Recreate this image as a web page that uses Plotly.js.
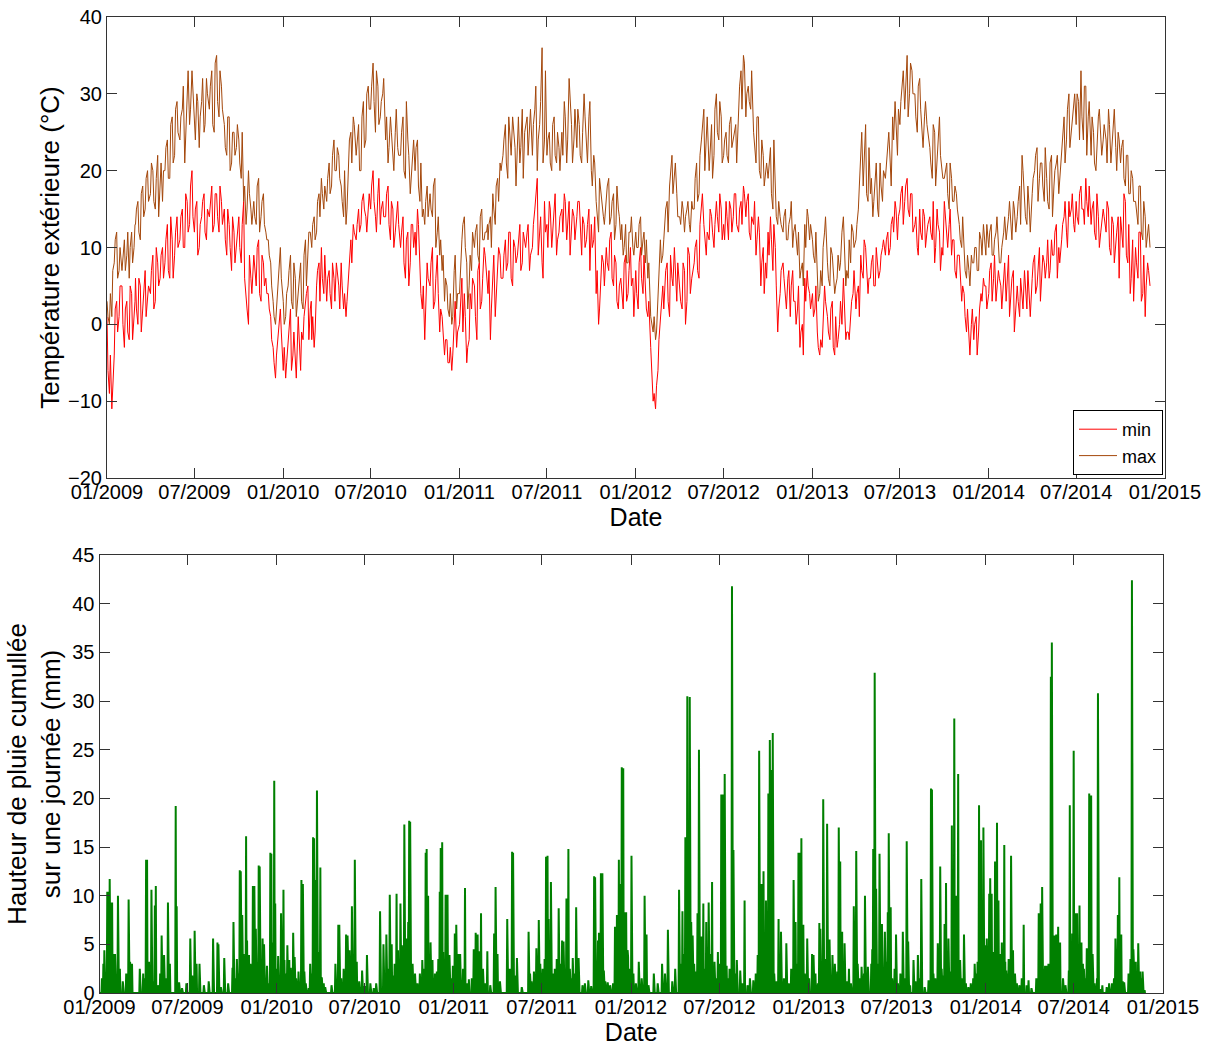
<!DOCTYPE html>
<html>
<head>
<meta charset="utf-8">
<script src="https://cdn.plot.ly/plotly-3.0.1.min.js"></script>
<style>html,body{margin:0;padding:0;background:#fff;}#chart{width:1212px;height:1046px;}</style>
</head>
<body>
<div id="chart"></div>
<script>
// ---- Daily temperatures (°C). A: days 1,6,11,16,21,26 of each month; B: days 3,8,13,18,23,28 ----
const tmin2009 = [1,-9,-11,-4,3,1, 5,-3,3,-2,4,1, 6,0,5,2,7,3, 4,9,3,8,6,10, 8,13,6,11,9,14, 11,15,10,16,13,20, 12,16,10,14,17,11, 14,18,13,17,12,16, 15,9,13,7,12,10, 14,8,16,3,0,6, 9,5,11,3,8,6, 4,1,-3,-7,-2,2];
const tmax2009 = [3,0,1,8,12,7, 7,11,9,6,12,10, 13,16,11,18,15,20, 17,20,15,22,18,16, 20,24,19,27,22,29, 24,28,21,30,26,33, 27,30,23,29,25,32, 28,33,25,35,27,31, 26,22,27,21,25,23, 24,19,16,13,20,15, 16,13,19,14,17,12, 11,8,3,0,5,10];
const tmin2010 = [-6,-7,-2,2,-4,-5, 1,-6,-2,3,5,2, -2,-3,5,8,10,4, 3,7,2,6,8,5, 8,2,1,6,11,13, 11,15,13,17,14,16, 15,20,14,17,13,16, 14,18,11,15,12,16, 10,14,6,12,8,13, 12,15,7,2,-2,8, 5,10,3,9,-1,1, -4,-2,-5,-6,1,-3];
const tmax2010 = [3,1,5,9,2,6, 4,8,2,11,9,12, 10,14,12,17,19,15, 16,21,18,24,20,22, 18,14,13,20,25,27, 22,26,20,29,24,31, 28,34,25,31,27,30, 24,21,27,22,25,23, 22,27,19,24,17,21, 20,24,16,14,13,18, 17,14,19,12,9,7, 3,5,1,0,7,2];
const tmin2011 = [0,6,4,-5,-2,2, 5,-2,8,3,10,6, 4,-2,6,1,8,9, 6,11,8,12,5,10, 9,13,8,11,12,7, 10,15,19,12,8,16, 13,16,10,14,9,12, 15,17,11,16,13,14, 14,16,9,13,11,15, 13,11,4,0,6,8, 10,7,12,5,8,2, 6,2,9,4,10,6];
const tmax2011 = [4,11,14,8,5,7, 10,13,8,15,11,12, 11,14,17,13,19,21, 22,26,19,24,27,23, 24,21,28,25,27,26, 22,28,20,26,36,24, 22,25,20,27,21,23, 25,29,21,32,26,24, 23,26,21,30,24,27, 20,22,16,12,17,14, 16,19,14,17,13,15, 11,9,13,8,12,10];
const tmin2012 = [7,2,10,4,5,1, -3,-10,-11,-6,1,5, 4,8,1,6,10,3, 5,2,7,3,9,6, 8,11,6,15,13,9, 11,14,10,16,12,15, 13,16,11,15,14,17, 12,16,18,14,17,11, 13,9,14,5,10,8, 12,14,7,10,-1,4, 8,4,6,1,7,3, 2,-3,0,6,7,4];
const tmax2012 = [12,10,14,11,8,6, 1,-1,-2,3,11,9, 13,16,18,22,20,17, 14,16,12,15,13,16, 15,21,17,24,28,26, 20,26,22,30,24,27, 22,25,21,27,24,26, 29,33,35,27,31,28, 25,21,27,19,22,20, 19,23,15,18,13,14, 12,15,11,14,10,13, 9,6,8,13,15,11];
const tmin2013 = [4,2,-1,-4,-3,5, 1,-2,3,-4,-3,0, 2,6,-2,-1,1,4, 2,5,9,6,10,4, 6,9,5,8,7,10, 9,12,10,14,16,11, 15,18,16,19,14,17, 13,10,15,11,14,12, 14,11,8,15,12,10, 16,12,13,9,11,6, 9,3,4,-1,-3,0, -2,1,-1,4,6,5];
const tmax2013 = [11,8,6,4,5,12, 8,5,9,4,6,7, 10,14,5,6,8,12, 11,15,22,18,26,16, 17,14,19,15,21,16, 19,23,21,27,29,22, 26,31,28,35,30,33, 30,25,32,24,27,26, 23,19,25,21,27,20, 19,21,15,19,16,17, 13,10,8,6,7,9, 8,10,7,11,13,9];
const tmin2014 = [4,8,6,3,7,5, 6,3,9,4,7,2, 5,1,4,7,2,3, 6,9,5,10,7,8, 8,6,11,9,13,10, 11,14,12,16,15,13, 16,13,18,15,19,14, 13,16,11,14,12,15, 12,15,9,13,11,14, 14,10,16,8,4,11, 10,6,12,4,1,8, 5];
const tmax2014 = [10,13,9,12,11,8, 12,11,14,13,16,12, 14,18,22,16,13,15, 17,20,23,19,21,16, 19,15,22,18,21,17, 22,27,24,30,25,28, 26,29,33,24,31,27, 22,25,20,27,23,24, 24,28,21,26,23,25, 21,24,18,22,17,19, 16,13,18,11,14,12, 10];

const tminB2009 = [-6,-4,-8,2,-1,5, 0,2,-1,5,-2,3, 2,6,-1,4,1,5, 7,2,10,5,9,6, 11,7,14,6,12,10, 14,10,17,12,18,14, 15,9,13,16,12,15, 16,12,17,14,18,13, 11,15,10,14,8,12, 10,13,6,2,9,4, 7,10,4,9,5,4, 2,-2,-5,-4,0,-1];
const tmaxB2009 = [1,4,7,11,6,10, 9,7,12,10,8,13, 15,12,17,14,19,16, 21,16,19,14,21,20, 23,19,26,21,28,25, 27,31,25,33,28,30, 24,29,27,32,26,30, 31,26,34,29,33,28, 23,27,20,25,22,26, 21,25,18,15,17,13, 14,18,12,16,13,11, 9,5,1,2,8,6];
const tminB2010 = [-3,-5,0,-6,-1,-7, -3,-1,1,4,-2,3, 1,-1,7,3,6,9, 6,4,8,3,7,2, 5,4,3,9,8,12, 13,12,16,15,12,17, 18,16,12,19,15,14, 17,13,16,10,14,13, 12,8,11,5,13,10, 9,13,4,5,3,6, 8,2,6,4,2,-1, -2,-5,-3,-4,3,-1];
const tmaxB2010 = [0,4,7,3,8,1, 6,3,9,5,12,10, 13,11,16,14,17,18, 19,17,22,20,23,19, 16,20,15,24,21,26, 24,20,27,23,30,28, 31,29,33,26,29,32, 27,23,25,20,28,22, 25,20,29,22,19,24, 23,18,21,15,16,14, 15,18,10,14,11,9, 6,2,4,1,9,4];
const tminB2011 = [3,-1,1,-3,4,6, 1,7,2,6,9,4, 7,2,9,4,10,6, 9,7,12,6,11,8, 11,7,12,10,13,9, 13,17,9,14,6,12, 10,15,12,17,11,14, 12,16,13,9,15,11, 16,12,14,10,13,7, 10,14,7,2,9,5, 8,11,6,9,3,5, 4,8,3,7,5,1];
const tmaxB2011 = [8,13,10,2,9,12, 12,9,14,11,12,13, 13,10,15,18,16,20, 24,21,27,22,25,18, 27,23,19,26,22,28, 26,31,24,29,21,33, 24,21,26,22,25,20, 22,27,24,30,21,28, 28,22,25,27,21,29, 18,21,14,19,15,13, 18,13,16,11,18,14, 13,10,8,12,14,9];
const tminB2012 = [4,8,6,9,2,3, -7,-9,-8,-2,3,2, 7,3,9,5,7,8, 3,8,0,10,4,7, 10,7,13,17,11,12, 15,12,13,14,17,11, 11,14,16,12,17,13, 15,13,17,16,12,14, 16,11,12,8,4,6, 9,11,13,5,2,7, 6,2,7,5,3,0, 5,-1,-4,3,5,2];
const tmaxB2012 = [10,13,9,12,11,8, 0,1,-1,6,8,11, 15,12,20,17,21,14, 13,15,14,16,12,15, 19,16,22,26,20,27, 23,19,28,25,29,21, 24,22,26,23,25,21, 31,28,34,30,29,33, 23,27,20,24,18,21, 21,17,24,14,16,13, 14,11,13,16,12,11, 12,7,5,10,14,13];
const tminB2013 = [1,5,-3,-2,0,3, -1,2,-3,1,-2,3, 0,3,-1,-2,3,7, 4,1,7,11,8,6, 8,5,10,6,9,11, 11,9,13,12,15,14, 17,13,18,15,17,12, 14,9,12,15,10,13, 12,16,10,13,7,9, 14,10,15,11,7,9, 7,5,1,2,-4,2, 0,-4,2,3,5,2];
const tmaxB2013 = [9,12,3,7,10,14, 6,10,7,5,9,8, 12,9,7,11,13,10, 13,18,25,21,17,23, 19,16,21,14,18,20, 21,25,18,24,26,28, 29,33,31,27,34,30, 27,31,28,23,29,25, 21,26,18,24,22,19, 20,17,21,16,18,15, 11,14,7,9,5,8, 10,7,12,9,11,13];
const tminB2014 = [7,3,9,5,6,2, 8,5,1,6,-1,4, 3,6,2,5,7,1, 8,4,7,3,9,6, 11,7,9,12,6,8, 13,16,10,14,17,12, 14,17,15,13,16,18, 15,12,17,10,13,14, 16,10,14,8,12,6, 12,17,9,13,6,3, 8,12,3,9,5,7];
const tmaxB2014 = [12,9,11,14,8,10, 14,12,16,11,15,13, 16,13,20,14,18,12, 19,22,16,21,18,23, 16,21,14,20,22,19, 25,21,28,23,27,30, 30,24,27,31,22,29, 27,21,24,28,22,26, 21,26,23,28,20,24, 23,19,22,17,20,16, 15,18,12,16,10,13];

// ---- Daily rainfall (mm): day offset from 2009-01-01 and amount; other days are dry (0) ----
const rainDay = [10,16,18,21,24,26,32,38,60,63,67,83,90,96,98,102,107,114,116,128,133,141,157,159,164,179,187,191,196,200,206,234,243,245,257,274,276,289,291,294,302,304,308,314,316,319,322,328,330,336,339,352,354,357,360,362,374,379,381,387,391,399,402,416,419,422,431,440,442,445,448,451,455,465,486,492,494,508,511,515,520,523,526,530,541,551,558,578,585,591,598,602,612,615,620,623,628,632,636,638,640,650,665,672,674,677,682,686,691,701,703,706,711,713,717,721,732,735,739,743,753,761,771,775,779,782,786,799,813,816,820,840,850,852,860,884,887,895,900,905,913,920,923,925,930,938,942,946,953,956,959,962,966,969,975,982,987,1007,1019,1021,1027,1029,1033,1036,1039,1047,1058,1062,1066,1070,1073,1076,1079,1081,1085,1088,1089,
1096,1111,1123,1127,1142,1159,1171,1194,1201,1207,1211,1216,1219,1222,1232,1235,1240,1244,1250,1255,1262,1267,1274,1281,1285,1288,1292,1303,1306,1313,1320,1329,1347,1356,1359,1364,1368,1373,1378,1381,1384,1387,1399,1404,1415,1430,1434,1440,1443,1446,1450,1458,1468,1471,1483,1485,1491,1499,1504,1510,1523,1526,1530,1535,1544,1554,1559,1570,1577,1583,1594,1597,1600,1607,1612,1618,1624,1626,1630,1641,1655,1663,1666,1677,1686,1693,1708,1713,1715,1727,1732,1741,1744,1749,1756,1761,1765,1769,1773,1781,1790,1803,1809,1812,1816,1821,1824,1828,1833,1835,1838,1842,1845,1849,1852,1856,1859,1864,1868,1873,1878,1882,1895,1904,1914,1935,1939,1942,1948,1951,1960,1962,1967,1971,1975,1979,1997,1999,2004,2007,2011,2014,2019,2023,2028,2034,2039,2043,2046,2057,2062,2075,2086,2093,2098,2101,2105,2111,2127,2131,2135,2140,2144,2149,2153,
5,8,13,20,28,35,42,48,55,92,100,110,120,125,137,145,170,215,225,250,265,280,283,286,297,299,306,311,317,325,333,342,345,348,365,368,371,384,394,405,410,425,434,437,458,462,478,498,503,512,518,535,546,565,570,595,605,608,617,645,655,660,668,679,688,695,698,708,715,725,728,746,749,757,767,790,795,805,825,845,857,870,890,908,917,934,949,964,972,979,995,1000,1013,1024,1031,1042,1052,1068,1083,1091,
1100,1105,1117,1131,1150,1165,1180,1186,1197,1204,1209,1213,1225,1228,1238,1247,1252,1258,1265,1270,1278,1283,1295,1298,1310,1325,1335,1340,1352,1362,1366,1371,1376,1390,1395,1410,1420,1425,1437,1448,1453,1462,1475,1480,1488,1494,1502,1507,1515,1520,1528,1533,1540,1548,1562,1566,1575,1580,1590,1592,1603,1605,1610,1615,1621,1633,1638,1645,1650,1660,1670,1681,1690,1700,1718,1722,1730,1735,1738,1746,1752,1759,1763,1767,1776,1785,1795,1800,1806,1814,1818,1826,1831,1840,1847,1854,1861,1866,1871,1876,1886,1890,1900,1910,1920,1930,1945,1955,1958,1965,1969,1973,1977,1985,1990,2001,2009,2016,2021,2026,2031,2037,2041,2050,2055,2066,2080,2090,2096,2103,2108,2120,2124,2130,2138,2147];
const rainMm = [4.4,10.4,10.4,11.7,9.3,9.3,4,10,9.6,3.2,3,2.5,2,13.7,13.7,3.2,10.6,9,11,5.9,3.9,9.3,19.2,8.9,1.1,1,5.6,1.8,6.4,3,3,5.6,5.2,5,3.6,2.6,7.3,12.6,12.5,8,16.1,5.4,3.9,2.7,11,11,6.6,13.1,13,5.6,5,14.4,14.3,5.2,21.8,9.2,8.2,10.6,3.4,4.9,3.4,6.2,3.7,11.6,11.2,2.2,0.5,16,15.9,11.6,20.8,4.2,12.9,0.6,3,7,7,6,5.9,4.4,8.9,3.2,13.7,3.2,2.3,3.9,1,8.4,5,6,10.1,5,10.2,4.4,9.2,4.9,17.3,5.6,7.3,17.7,17.6,2,3.4,14.4,14.8,10,5.2,3.4,2,10.4,14.9,15.5,3.4,10.1,10.1,3.9,6.1,7,4,4,10.8,1.4,4.5,6.2,6,4.3,8.2,4.3,6.1,10.9,4,7.6,14.5,14.4,3.6,6.3,2,2.2,4.6,7.5,2.5,14,14.1,7.6,11.4,2.5,3.5,8.7,5.4,5.3,2.5,9.7,14.8,2.5,3.6,8.8,3.6,1.3,12,11.9,5.4,6.2,12.3,12.3,2.3,1.1,1,6.8,8,13.7,11.2,23.2,23.1,8.3,8.3,4.4,3.7,
14.1,3.2,10,6,2,3,6.5,10.6,8.4,16,30.5,30.4,7.3,5.9,8.2,25,5.8,9.2,7.3,9.3,11.4,3.2,4.2,20.4,20.4,22.5,2.8,41.8,14.7,3.4,2.3,9.5,1.3,3.9,24.9,11.2,12.5,9.5,20.5,26,22.9,26.7,7.6,6.3,5.1,11.6,7.3,14.4,14.4,15.9,7,5.6,4,3.9,7.2,6.6,19.9,17.4,5.5,3.9,17,13.5,6.3,5.1,2.5,8.9,14.6,2.7,10,2.7,14.8,32.9,10.7,14.3,7.1,6.3,8.3,16.4,8.8,6,6.3,15.6,5.3,3.4,3.9,11.7,1.3,21,20.9,5.1,13,7.1,11.3,5.6,17.2,28.2,10,22.5,3.4,6,0.6,3,3.2,19.3,15.7,17,4.9,5.6,10.2,11.8,10.2,4.2,13.5,17.5,9.5,4,5.2,15.2,2.3,3.5,14.1,4.4,0.8,7,1.3,8.2,9.2,10.9,2.8,2.8,32.5,36,5.9,6,6.8,5.2,2.3,19.3,6.1,24.9,8.2,8.2,9,5.2,2.5,4.6,20.5,20.3,4,30.8,0.4,0.6,1,5.6,8,11.9,6,1.1,42.4,2.5,3.2,5.1,2.2,2.2,0.3,
1.5,3,2,1,4,0.8,2.5,1.2,2,1.5,2.8,1.2,0.8,2,1.5,3,0.5,0.8,1.2,0.6,1,1.5,3.5,2,4,1.8,2.5,3,4.5,2,3.2,1.5,2.8,1,2.5,3.8,1.2,2,2.6,1.5,2.2,1,3,2,1.6,1,0.8,1.5,2.5,3.5,2,1.2,0.7,0.5,1,2.5,1.8,3,2.5,3,1,2,2.5,4,1.5,2.2,3.5,4.2,2,1.5,2.8,1.2,2.5,1,1.5,2.5,1,0.8,1.2,2.5,1.8,0.6,1.2,3,3.5,2,3,4,1.5,2,0.8,1,0.7,2.5,3,1.2,0.8,3.5,4,2.5,
2,1,1.5,0.8,1,2,1.2,2.5,3,4,2.6,3.5,3,2.2,3.8,2.5,3,4,2,1.5,3,4.5,1.5,2.5,2,1,0.8,1.5,2,3,4,2.5,3,2,1.2,1.5,1,2.5,3,4.2,2,1.5,2,1,2.5,3.5,2,1.5,3,2.2,1.8,2.5,1.2,1,3,1.5,2,1.2,3,4.5,3,2.5,4,2,3.2,1.5,2.5,1,2,1.5,0.8,1.2,1.5,0.6,2,1.5,3,2.5,1.8,3.5,2.2,4,2.5,3,1.5,1,1,1.5,2,3.5,2.5,3,2.8,3.5,2,3,2.5,3.2,2,1.5,2,1,1.5,0.8,0.5,1.5,2.5,3,2,3.5,4,2.5,3,1.5,0.8,2.5,3,3.5,2,3,1.5,2.5,3.5,1,1.5,0.8,1,1.5,2.5,3,1.2,2,3.5,4.5,2,1.5];

// ---- Axis ticks ----
const xTickDates = ['2009-01-01','2009-07-01','2010-01-01','2010-07-01','2011-01-01','2011-07-01','2012-01-01','2012-07-01','2013-01-01','2013-07-01','2014-01-01','2014-07-01','2015-01-01'];
const xTickLabels = ['01/2009','07/2009','01/2010','07/2010','01/2011','07/2011','01/2012','07/2012','01/2013','07/2013','01/2014','07/2014','01/2015'];

// ---- Build series ----
function pad(n){return (n<10?'0':'')+n;}
const years=[2009,2010,2011,2012,2013,2014];
const tminA=[tmin2009,tmin2010,tmin2011,tmin2012,tmin2013,tmin2014];
const tmaxA=[tmax2009,tmax2010,tmax2011,tmax2012,tmax2013,tmax2014];
const tminB=[tminB2009,tminB2010,tminB2011,tminB2012,tminB2013,tminB2014];
const tmaxB=[tmaxB2009,tmaxB2010,tmaxB2011,tmaxB2012,tmaxB2013,tmaxB2014];
const tX=[], tMin=[], tMax=[];
years.forEach((y,j)=>{
  for(let i=0;i<tminA[j].length;i++){
    const m=Math.floor(i/6), k=i%6;
    tX.push(y+'-'+pad(m+1)+'-'+pad(1+5*k)); tMin.push(tminA[j][i]); tMax.push(tmaxA[j][i]);
    if(i<tminB[j].length){
      tX.push(y+'-'+pad(m+1)+'-'+pad(3+5*k)); tMin.push(tminB[j][i]); tMax.push(tmaxB[j][i]);
    }
  }
});

const lastDay = Math.max.apply(null, rainDay)+3;
const rainDaily = new Array(lastDay+1).fill(0);
rainDay.forEach((d,i)=>{ if(rainMm[i]>rainDaily[d]) rainDaily[d]=rainMm[i]; });
const base = Date.UTC(2009,0,1);
const rainX = rainDaily.map((v,d)=>new Date(base+d*86400000).toISOString().slice(0,10));

const W=1212, H=1046;
const fx=p=>p/W, fy=p=>1-p/H;
const axCol='#333';
const FAM='Liberation Sans, Arial, sans-serif';
const tickFont={family:FAM, size:20, color:'#000'};
const xTitleFont={family:FAM, size:25, color:'#000'};
const yTitleFont={family:FAM, size:26, color:'#000'};
function xax(domain, anchor, standoff){
  return {domain:domain, anchor:anchor, type:'date', range:['2009-01-01','2015-01-01'],
    tickmode:'array', tickvals:xTickDates, ticktext:xTickLabels, ticks:'inside', ticklen:10, tickwidth:1,
    ticklabelstandoff:-4,
    tickcolor:axCol, showline:true, linecolor:axCol, linewidth:1, mirror:'ticks', showgrid:false, zeroline:false,
    tickfont:tickFont, title:{text:'Date', font:xTitleFont, standoff:standoff}};
}
function yax(domain, anchor, range, dtick, title, standoff){
  return {domain:domain, anchor:anchor, range:range, dtick:dtick, tick0:0, ticks:'inside', ticklen:10, tickwidth:1,
    tickcolor:axCol, showline:true, linecolor:axCol, linewidth:1, mirror:'ticks', showgrid:false, zeroline:false,
    tickfont:tickFont, title:{text:title, font:yTitleFont, standoff:standoff}};
}

const traces=[
  {x:tX, y:tMin, type:'scatter', mode:'lines', name:'min', line:{color:'#ff0000', width:1}, xaxis:'x', yaxis:'y'},
  {x:tX, y:tMax, type:'scatter', mode:'lines', name:'max', line:{color:'#a4470b', width:1}, xaxis:'x', yaxis:'y'},
  {x:rainX, y:rainDaily, type:'scatter', mode:'lines', name:'pluie', showlegend:false, line:{color:'#008000', width:2}, xaxis:'x2', yaxis:'y2'}
];

const layout={
  width:W, height:H, margin:{l:0,r:0,t:0,b:0}, paper_bgcolor:'#fff', plot_bgcolor:'#fff',
  font:{family:FAM, size:20, color:'#000'},
  showlegend:true,
  legend:{x:fx(1163), xanchor:'right', y:fy(475), yanchor:'bottom', bordercolor:'#000', borderwidth:1, bgcolor:'#fff',
    font:{family:FAM, size:18, color:'#000'}, tracegroupgap:0, itemwidth:38},
  xaxis: xax([fx(107),fx(1165)],'y',2),
  yaxis: yax([fy(478),fy(17)],'x',[-20,40],10,'Température extérieure (°C)',0),
  xaxis2: xax([fx(99.5),fx(1163)],'y2',5),
  yaxis2: yax([fy(993),fy(555)],'x2',[0,45],5,'Hauteur de pluie cumullée<br>sur une journée (mm)',4)
};
Plotly.newPlot('chart', traces, layout, {displayModeBar:false, staticPlot:true});
</script>
</body>
</html>
